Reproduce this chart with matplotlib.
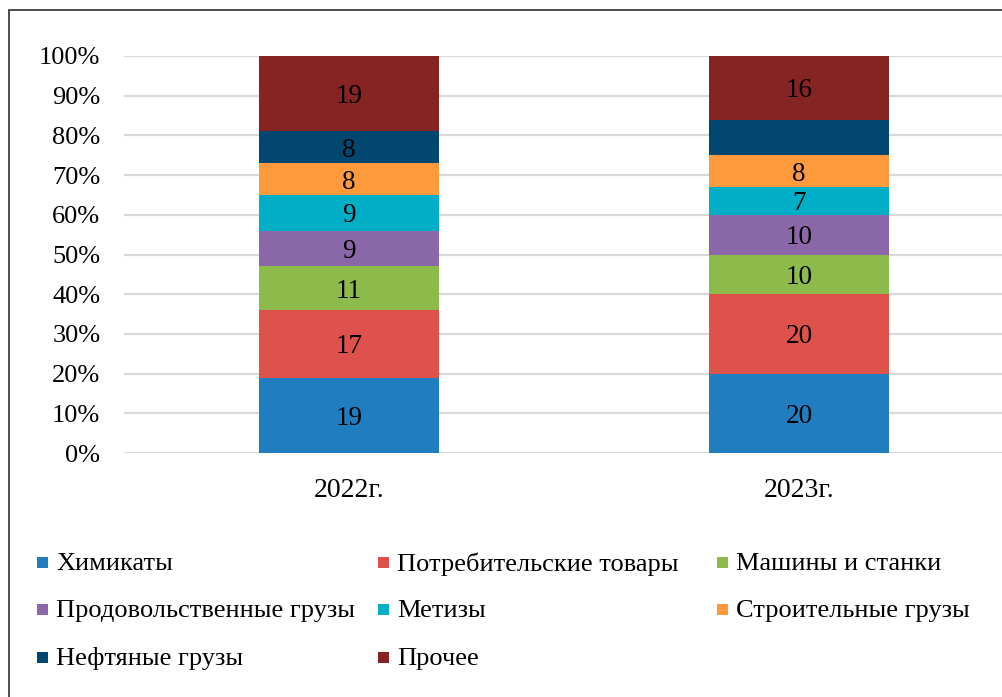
import matplotlib
matplotlib.use("Agg")
import matplotlib.pyplot as plt
from matplotlib.patches import Rectangle
from matplotlib.ticker import FuncFormatter

# ---- data ----
categories = ["2022г.", "2023г."]
series_names = ["Химикаты", "Потребительские товары", "Машины и станки",
                "Продовольственные грузы", "Метизы", "Строительные грузы",
                "Нефтяные грузы", "Прочее"]
chemicals = [19, 20]
consumer = [17, 20]
machines = [11, 10]
food = [9, 10]
hardware = [9, 7]
construction = [8, 8]
oil = [8, 9]
other = [19, 16]
show_label = {"Нефтяные грузы": [True, False]}
y_ticks = [0, 10, 20, 30, 40, 50, 60, 70, 80, 90, 100]

colors = ["#1F7DC0", "#DE524B", "#8CBA4B", "#8A67A8", "#00AEC8",
          "#FF9A3C", "#02476F", "#862323"]

series = [chemicals, consumer, machines, food, hardware, construction, oil, other]

W, H = 1002, 697
plt.rcParams['font.family'] = ['Liberation Serif', 'DejaVu Serif']
fig = plt.figure(figsize=(W / 100, H / 100), dpi=100)
fig.patch.set_facecolor("white")

# outer border
fig.patches.append(Rectangle((9 / W, -0.1), 1.2, 1 - 10 / H + 0.1,
                             transform=fig.transFigure, fill=False,
                             edgecolor="#404040", lw=1.3))

ax = fig.add_axes([124 / W, 1 - 453 / H, 900 / W, 397 / H])
x = list(range(len(categories)))
bottom = [0] * len(categories)
for name, vals, col in zip(series_names, series, colors):
    bars = ax.bar(x, vals, width=0.4, bottom=bottom, color=col, zorder=2)
    flags = show_label.get(name, [True] * len(vals))
    for i, (b, v) in enumerate(zip(bottom, vals)):
        if flags[i]:
            ax.text(x[i], b + v / 2, str(v), ha="center", va="center_baseline",
                    fontsize=19.5, color="black", zorder=3)
    bottom = [b + v for b, v in zip(bottom, vals)]

ax.set_xlim(-0.5, 1.5)
ax.set_ylim(0, 100)
ax.set_yticks(y_ticks)
ax.yaxis.set_major_formatter(FuncFormatter(lambda v, p: f"{int(v)}%"))
ax.set_xticks(x)
ax.set_xticklabels(categories)
ax.yaxis.grid(True, color="#D9D9D9", lw=1.6, zorder=0)
ax.set_axisbelow(True)
for s in ax.spines.values():
    s.set_visible(False)
ax.tick_params(axis="both", length=0, labelsize=19)
ax.tick_params(axis="y", pad=17)
ax.tick_params(axis="x", pad=18, labelsize=20)

# legend (row-major, 3 columns)
col_x = [37, 378, 717]
row_y = [562, 609, 657]
sq = 11
for k, (name, col) in enumerate(zip(series_names, colors)):
    r, c = divmod(k, 3)
    mx, my = col_x[c], row_y[r]
    fig.patches.append(Rectangle((mx / W, 1 - (my + sq / 2) / H), sq / W, sq / H,
                                 transform=fig.transFigure, facecolor=col,
                                 edgecolor="none"))
    fig.text((mx + sq + 8) / W, 1 - (my + 2) / H, name, ha="left", va="center",
             fontsize=19)

fig.savefig("out.png", dpi=100)
